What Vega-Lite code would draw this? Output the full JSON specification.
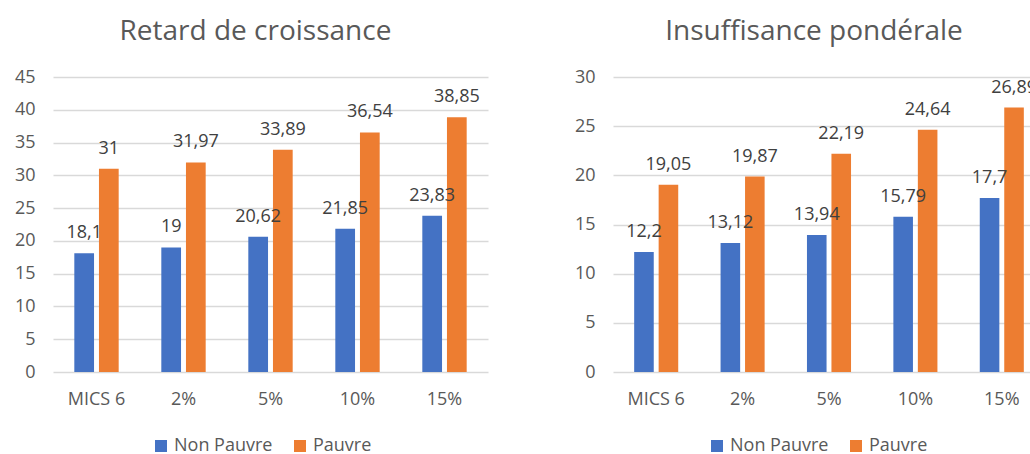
{
  "$schema": "https://vega.github.io/schema/vega-lite/v6.json",
  "padding": {"left": 5, "top": 18, "right": 0, "bottom": 0},
  "background": "white",
  "config": {
    "locale": {"number": {"decimal": ",", "thousands": " ", "grouping": [3], "currency": ["", " €"]}},
    "font": "Open Sans",
    "view": {"stroke": null},
    "concat": {"spacing": 77},
    "title": {"fontSize": 28, "fontWeight": "normal", "color": "#595959", "offset": 22, "dx": -15},
    "axis": {"labelFont": "Open Sans", "labelFontSize": 18, "labelColor": "#595959", "domain": false, "ticks": false, "gridColor": "#d9d9d9", "gridWidth": 1.3}
  },
  "data": {
    "values": [
      {"panel": "R", "cat": "MICS 6", "group": "Non Pauvre", "value": 18.1},
      {"panel": "R", "cat": "MICS 6", "group": "Pauvre", "value": 31},
      {"panel": "R", "cat": "2%", "group": "Non Pauvre", "value": 19},
      {"panel": "R", "cat": "2%", "group": "Pauvre", "value": 31.97},
      {"panel": "R", "cat": "5%", "group": "Non Pauvre", "value": 20.62},
      {"panel": "R", "cat": "5%", "group": "Pauvre", "value": 33.89},
      {"panel": "R", "cat": "10%", "group": "Non Pauvre", "value": 21.85},
      {"panel": "R", "cat": "10%", "group": "Pauvre", "value": 36.54},
      {"panel": "R", "cat": "15%", "group": "Non Pauvre", "value": 23.83},
      {"panel": "R", "cat": "15%", "group": "Pauvre", "value": 38.85},
      {"panel": "I", "cat": "MICS 6", "group": "Non Pauvre", "value": 12.2},
      {"panel": "I", "cat": "MICS 6", "group": "Pauvre", "value": 19.05},
      {"panel": "I", "cat": "2%", "group": "Non Pauvre", "value": 13.12},
      {"panel": "I", "cat": "2%", "group": "Pauvre", "value": 19.87},
      {"panel": "I", "cat": "5%", "group": "Non Pauvre", "value": 13.94},
      {"panel": "I", "cat": "5%", "group": "Pauvre", "value": 22.19},
      {"panel": "I", "cat": "10%", "group": "Non Pauvre", "value": 15.79},
      {"panel": "I", "cat": "10%", "group": "Pauvre", "value": 24.64},
      {"panel": "I", "cat": "15%", "group": "Non Pauvre", "value": 17.7},
      {"panel": "I", "cat": "15%", "group": "Pauvre", "value": 26.89}
    ]
  },
  "hconcat": [
    {
      "title": {"text": "Retard de croissance"},
      "width": 435,
      "height": 295,
      "transform": [{"filter": "datum.panel === 'R'"}],
      "encoding": {
        "x": {"field": "cat", "type": "nominal", "sort": ["MICS 6", "2%", "5%", "10%", "15%"], "scale": {"paddingInner": 0.49, "paddingOuter": 0.245}, "axis": {"title": null, "labelAngle": 0, "labelPadding": 18}},
        "xOffset": {"field": "group", "type": "nominal", "sort": ["Non Pauvre", "Pauvre"], "scale": {"paddingInner": 0.2}},
        "y": {"field": "value", "type": "quantitative", "scale": {"domain": [0, 45]}, "axis": {"title": null, "values": [0, 5, 10, 15, 20, 25, 30, 35, 40, 45], "labelPadding": 18, "minExtent": 48, "maxExtent": 48}},
        "color": {"field": "group", "type": "nominal", "scale": {"domain": ["Non Pauvre", "Pauvre"], "range": ["#4472C4", "#ED7D31"]},
          "legend": {"title": null, "orient": "none", "legendX": 99, "legendY": 360, "direction": "horizontal", "symbolType": "square", "symbolSize": 144, "symbolStrokeWidth": 0, "labelFontSize": 18, "labelColor": "#595959", "labelOffset": 4, "columnPadding": 18}}
      },
      "layer": [
        {"mark": {"type": "bar"}},
        {"mark": {"type": "text", "baseline": "alphabetic", "dy": -15, "fontSize": 18},
          "encoding": {"text": {"field": "value", "type": "quantitative"}, "color": {"value": "#404040"}}}
      ]
    },
    {
      "title": {"text": "Insuffisance pondérale"},
      "width": 432,
      "height": 295,
      "transform": [{"filter": "datum.panel === 'I'"}],
      "encoding": {
        "x": {"field": "cat", "type": "nominal", "sort": ["MICS 6", "2%", "5%", "10%", "15%"], "scale": {"paddingInner": 0.49, "paddingOuter": 0.245}, "axis": {"title": null, "labelAngle": 0, "labelPadding": 18}},
        "xOffset": {"field": "group", "type": "nominal", "sort": ["Non Pauvre", "Pauvre"], "scale": {"paddingInner": 0.2}},
        "y": {"field": "value", "type": "quantitative", "scale": {"domain": [0, 30]}, "axis": {"title": null, "values": [0, 5, 10, 15, 20, 25, 30], "labelPadding": 18, "minExtent": 48, "maxExtent": 48}},
        "color": {"field": "group", "type": "nominal", "scale": {"domain": ["Non Pauvre", "Pauvre"], "range": ["#4472C4", "#ED7D31"]},
          "legend": {"title": null, "orient": "none", "legendX": 95, "legendY": 360, "direction": "horizontal", "symbolType": "square", "symbolSize": 144, "symbolStrokeWidth": 0, "labelFontSize": 18, "labelColor": "#595959", "labelOffset": 4, "columnPadding": 18}}
      },
      "layer": [
        {"mark": {"type": "bar"}},
        {"mark": {"type": "text", "baseline": "alphabetic", "dy": -15, "fontSize": 18},
          "encoding": {"text": {"field": "value", "type": "quantitative"}, "color": {"value": "#404040"}}}
      ]
    }
  ],
  "resolve": {"scale": {"color": "independent", "y": "independent", "x": "independent", "xOffset": "independent"}, "legend": {"color": "independent"}}
}
